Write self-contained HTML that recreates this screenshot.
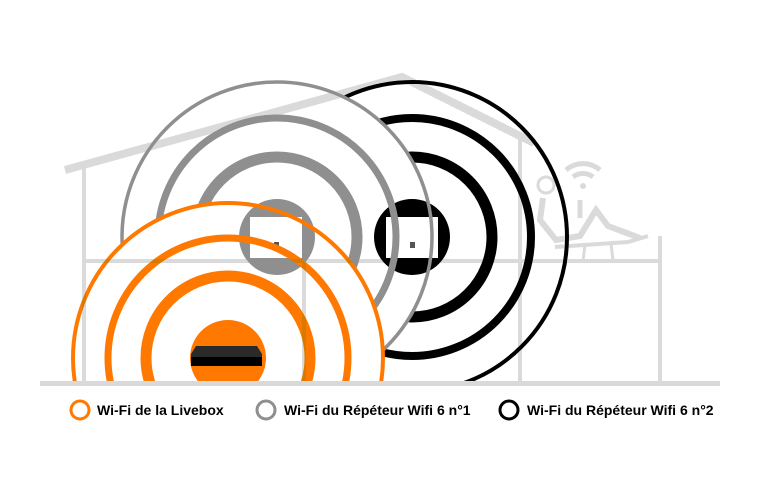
<!DOCTYPE html>
<html><head><meta charset="utf-8"><style>
html,body{margin:0;padding:0;background:#fff;width:768px;height:500px;overflow:hidden}
svg{display:block}
</style></head><body>
<svg width="768" height="500" viewBox="0 0 768 500" xmlns="http://www.w3.org/2000/svg">
<defs><clipPath id="c"><rect x="0" y="0" width="768" height="381"/></clipPath></defs>
<g clip-path="url(#c)">
 <!-- black rings -->
 <circle cx="412" cy="237" r="155" fill="#fff" stroke="#000" stroke-width="4"/>
 <circle cx="412" cy="237" r="119" fill="none" stroke="#000" stroke-width="8"/>
 <circle cx="412" cy="237" r="80" fill="none" stroke="#000" stroke-width="11"/>
 <!-- gray white disk -->
 <circle cx="277" cy="237" r="154" fill="#fff"/>
 <!-- black blob + box -->
 <circle cx="412" cy="237" r="38" fill="#000"/>
 <rect x="386" y="217" width="52" height="41" fill="#fff"/>
 <rect x="410" y="242" width="5" height="6" fill="#555"/>
 <!-- gray rings -->
 <circle cx="277" cy="237" r="155" fill="none" stroke="#8f8f8f" stroke-width="3.5"/>
 <circle cx="277" cy="237" r="119" fill="none" stroke="#8f8f8f" stroke-width="7"/>
 <circle cx="277" cy="237" r="80" fill="none" stroke="#8f8f8f" stroke-width="11"/>
 <!-- orange white disk -->
 <circle cx="228" cy="358" r="154" fill="#fff"/>
 <!-- gray blob + box -->
 <circle cx="277" cy="237" r="38" fill="#8f8f8f"/>
 <rect x="250" y="217" width="52" height="41" fill="#fff"/>
 <rect x="274" y="242" width="5" height="6" fill="#555"/>
 <!-- orange rings -->
 <circle cx="228" cy="358" r="155" fill="none" stroke="#ff7900" stroke-width="4"/>
 <circle cx="228" cy="358" r="120" fill="none" stroke="#ff7900" stroke-width="7"/>
 <circle cx="228" cy="358" r="82" fill="none" stroke="#ff7900" stroke-width="11"/>
 <circle cx="228" cy="358" r="38" fill="#ff7900"/>
 <polygon points="196,346 257,346 262,354 262,366 191,366 191,354" fill="#2a2a2a"/>
 <rect x="191" y="357" width="71" height="9" fill="#000"/>
</g>
<!-- house (darken blend) -->
<g style="mix-blend-mode:darken" stroke="#dadada" fill="none">
 <polyline points="65,170 402,77 534,143" stroke-width="8"/>
 <line x1="84" y1="166" x2="84" y2="383" stroke-width="4"/>
 <line x1="84" y1="261" x2="662" y2="261" stroke-width="4"/>
 <line x1="304" y1="261" x2="304" y2="383" stroke-width="4"/>
 <line x1="520" y1="137" x2="520" y2="383" stroke-width="4"/>
 <line x1="660" y1="236" x2="660" y2="383" stroke-width="4"/>
 <!-- wifi icon -->
 <path d="M566,170 A26,26 0 0 1 600,170" stroke-width="5"/>
 <path d="M573,177 A16,16 0 0 1 593,177" stroke-width="5"/>
 <circle cx="583" cy="186" r="3" fill="#dadada" stroke="none"/>
 <!-- person -->
 <circle cx="546" cy="185" r="8" stroke-width="3"/>
 <path d="M543,198 L540,220 L556,240 L580,236 L596,210 L608,226 L640,238" stroke-width="6"/>
 <path d="M555,247 L628,242 L648,236" stroke-width="4"/>
 <line x1="580" y1="200" x2="580" y2="218" stroke-width="5"/>
 <line x1="585" y1="245" x2="583" y2="261" stroke-width="3"/>
 <line x1="611" y1="243" x2="613" y2="261" stroke-width="3"/>
</g>
<rect x="40" y="381" width="680" height="5" fill="#d9d9d9"/>
<!-- legend -->
<g font-family="Liberation Sans, Arial, sans-serif" font-weight="bold" font-size="14" fill="#000">
 <circle cx="80" cy="410" r="9" fill="none" stroke="#ff7900" stroke-width="3"/>
 <text x="97" y="415">Wi-Fi de la Livebox</text>
 <circle cx="266" cy="410" r="9" fill="none" stroke="#8f8f8f" stroke-width="3"/>
 <text x="284" y="415">Wi-Fi du Répéteur Wifi 6 n°1</text>
 <circle cx="509" cy="410" r="9" fill="none" stroke="#000" stroke-width="3"/>
 <text x="527" y="415">Wi-Fi du Répéteur Wifi 6 n°2</text>
</g>
</svg>
</body></html>
